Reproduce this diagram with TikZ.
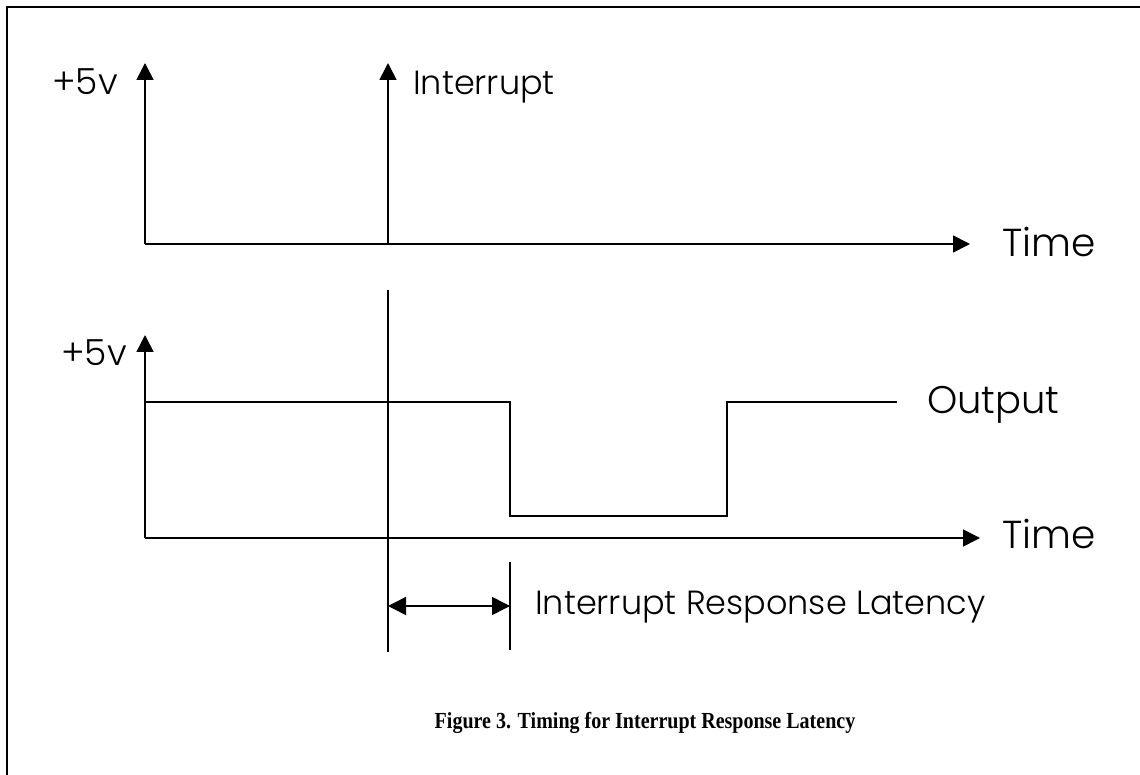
\documentclass[tikz,border=0pt]{standalone}
\usepackage{fontspec}
\setmainfont{Liberation Serif}
\newfontfamily\gothic{Poppins}[UprightFont={* Light}]
\usepackage{tikz}
\usetikzlibrary{arrows.meta, positioning}

\begin{document}
\begin{tikzpicture}[
    x=1pt, y=-1pt,
    axis/.style={line width=1.6pt, -{Triangle[length=17pt, width=17pt]}},
    sig/.style={line width=1.6pt},
    lbl/.style={inner sep=0pt, font=\gothic\fontsize{33.5}{36}\selectfont},
    volt/.style={inner sep=0pt, font=\gothic\fontsize{36}{40}\selectfont},
    big/.style={inner sep=0pt, font=\gothic\fontsize{39}{44}\selectfont},
]
    \useasboundingbox (0,0) rectangle (1140,775);
    \draw[line width=2.5pt] (1140,7) -- (7,7) -- (7,775);

    % Top trace: the interrupt
    \coordinate (o1) at (145,244);
    \coordinate (v1) at (145,63);
    \coordinate (t1) at (970,244);
    \coordinate (irqlo) at (388,244);
    \coordinate (irqhi) at (388,63);
    \draw[axis] (o1) -- (v1);
    \draw[axis] (o1) -- (t1);
    \draw[axis] (irqlo) -- (irqhi);
    \node[volt, anchor=base east] (volt1) at (118,95) {+5v};
    \node[lbl, anchor=base west] (irq) at (413,95) {Interrupt};
    \node[big, anchor=base west] (time1) at (1002,257) {Time};

    % Bottom trace: the output
    \coordinate (o2) at (145,538);
    \coordinate (v2) at (145,335);
    \coordinate (t2) at (980,538);
    \draw[axis] (o2) -- (v2);
    \draw[axis] (o2) -- (t2);
    \coordinate (hi0) at (145,402);
    \coordinate (fall) at (510,402);
    \coordinate (low0) at (510,516);
    \coordinate (low1) at (727,516);
    \coordinate (rise) at (727,402);
    \coordinate (hi1) at (897,402);
    \draw[sig] (hi0) -- (fall) -- (low0) -- (low1) -- (rise) -- (hi1);
    \node[volt, anchor=base east] (volt2) at (127,366) {+5v};
    \node[big, font=\gothic\fontsize{38.5}{44}\selectfont, anchor=base west] (out) at (927,413) {Output};
    \node[big, anchor=base west] (time2) at (1002,548) {Time};

    % Latency marker
    \coordinate (mark1) at (388,290);
    \coordinate (mark2) at (388,652);
    \coordinate (mark3) at (510,562);
    \coordinate (mark4) at (510,650);
    \draw[sig] (mark1) -- (mark2);
    \draw[sig] (mark3) -- (mark4);
    \coordinate (lat1) at (388,606);
    \coordinate (lat2) at (510,606);
    \draw[sig, {Triangle[length=18pt, width=18pt]}-{Triangle[length=18pt, width=18pt]}] (lat1) -- (lat2);
    \node[lbl, anchor=base west] (lat) at (535,614) {Interrupt Response Latency};

    \node[inner sep=0pt, anchor=base, font=\bfseries\fontsize{23}{26}\selectfont] (cap) at (645,728)
        {\scalebox{0.87}[1]{Figure 3. Timing for Interrupt Response Latency}};
\end{tikzpicture}
\end{document}
